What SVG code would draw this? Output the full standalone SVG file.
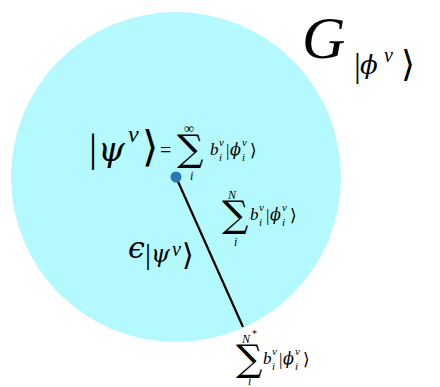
<svg xmlns="http://www.w3.org/2000/svg" width="440" height="387" viewBox="0 0 440 387">
<style>
text{font-family:"Liberation Serif","DejaVu Serif",serif;fill:#000}
.it{font-style:italic}
.gr{font-family:"DejaVu Serif",serif;font-style:italic}
.ang{font-family:"DejaVu Sans",sans-serif;font-weight:normal}
.sum{font-size:37px;font-family:"DejaVu Serif",serif}
.lim{font-size:12px;font-style:italic}
.b{font-size:17px;font-style:italic}
.s{font-size:11px;font-style:italic}
.br{font-size:17px}
</style>
<g id="region">
<circle cx="176" cy="177" r="165" fill="#b4f9fd"/>
</g>
<g id="connectors">
<line x1="176" y1="177" x2="243" y2="327" stroke="#000" stroke-width="2.2"/>
</g>
<g id="point">
<circle cx="176" cy="177" r="5.5" fill="#2a77b4"/>
</g>
<g id="G-label">
<text x="302" y="58" class="it" font-size="60">G</text>
<text x="354" y="77" font-size="34">|</text>
<text x="360" y="74" class="gr" font-size="26">ϕ</text>
<text x="384" y="62" class="it" font-size="20">v</text>
<text x="401" y="76" class="ang" font-size="36">⟩</text>
</g>
<g id="psi-sum">
<text x="89" y="161" font-size="40">|</text>
<text x="98" y="161" class="gr" font-size="34">ψ</text>
<text x="128" y="142" class="it" font-size="24">v</text>
<text x="142" y="161" class="ang" font-size="42">⟩</text>
<text x="160" y="157" font-size="20">=</text>
<text x="177" y="161" class="sum">∑</text>
<text x="184" y="133" font-size="14">∞</text>
<text x="190" y="180" class="lim">i</text>
<text x="210" y="155" class="b">b</text>
<text x="219" y="146" class="s">v</text>
<text x="219" y="161" class="s">i</text>
<text x="226" y="156" class="br">|</text>
<text x="230" y="155" class="gr" font-size="16">ϕ</text>
<text x="242" y="146" class="s">v</text>
<text x="242" y="161" class="s">i</text>
<text x="250" y="156" class="ang" font-size="17">⟩</text>
</g>
<g id="sum-N">
<text x="222" y="227" class="sum">∑</text>
<text x="228" y="199" class="lim">N</text>
<text x="234" y="246" class="lim">i</text>
<text x="250" y="220" class="b">b</text>
<text x="259" y="211" class="s">v</text>
<text x="259" y="226" class="s">i</text>
<text x="266" y="221" class="br">|</text>
<text x="270" y="220" class="gr" font-size="16">ϕ</text>
<text x="282" y="211" class="s">v</text>
<text x="282" y="226" class="s">i</text>
<text x="290" y="221" class="ang" font-size="17">⟩</text>
</g>
<g id="epsilon">
<text x="128" y="258" class="gr" font-size="30">ϵ</text>
<text x="145" y="264" font-size="30">|</text>
<text x="151" y="262" class="gr" font-size="24">ψ</text>
<text x="172" y="256" class="it" font-size="20">v</text>
<text x="182" y="265" class="ang" font-size="30">⟩</text>
</g>
<g id="sum-Nstar">
<text x="236" y="371" class="sum">∑</text>
<text x="242" y="343" class="lim">N</text>
<text x="252" y="337" font-size="10">*</text>
<text x="248" y="385" class="lim">i</text>
<text x="263" y="364" class="b">b</text>
<text x="272" y="355" class="s">v</text>
<text x="272" y="370" class="s">i</text>
<text x="279" y="365" class="br">|</text>
<text x="283" y="364" class="gr" font-size="16">ϕ</text>
<text x="295" y="355" class="s">v</text>
<text x="295" y="370" class="s">i</text>
<text x="303" y="365" class="ang" font-size="17">⟩</text>
</g>
</svg>
